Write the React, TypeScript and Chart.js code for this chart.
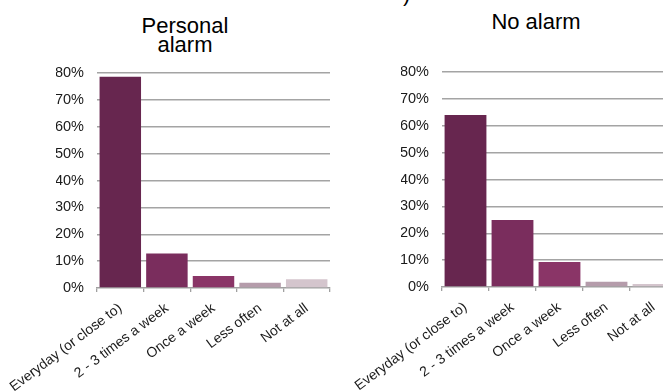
import React, { useEffect, useRef } from 'react';
import { Chart, registerables } from 'chart.js';

Chart.register(...registerables);

const categories = ['Everyday (or close to)', '2 - 3 times a week', 'Once a week', 'Less often', 'Not at all'];
const personalAlarmValues = [78.6, 12.8, 4.5, 2.0, 3.3];
const noAlarmValues = [64.0, 24.9, 9.3, 2.0, 1.1];
const yMax = 80;
const yStep = 10;
const barColors = ['#67264f', '#7a2d5d', '#8a3567', '#b59cab', '#d4c5cd'];

const FONT = '"Liberation Sans", Arial, sans-serif';

function makeConfig(values: number[], pad: { left: number; right: number; top: number; bottom: number }, xHeight: number, yWidth: number): any {
  return {
    type: 'bar',
    data: {
      labels: categories,
      datasets: [
        {
          data: values,
          backgroundColor: barColors,
          borderWidth: 0,
          barPercentage: 0.89,
          categoryPercentage: 1.0,
        },
      ],
    },
    options: {
      responsive: false,
      animation: false,
      layout: { padding: pad },
      plugins: {
        legend: { display: false },
        title: { display: false },
        tooltip: { enabled: false },
      },
      scales: {
        x: {
          grid: {
            display: true,
            drawOnChartArea: false,
            drawTicks: true,
            tickLength: 4,
            color: '#a0a0a0',
            lineWidth: 1.3,
            offset: true,
          },
          border: { display: true, color: '#a0a0a0', width: 1.5 },
          ticks: {
            autoSkip: false,
            minRotation: 37,
            maxRotation: 37,
            padding: 8,
            color: '#1a1a1a',
            font: { family: FONT, size: 14 },
          },
          afterFit: (scale: any) => {
            scale.height = xHeight;
            scale.paddingLeft = 0;
            scale.paddingRight = 0;
          },
        },
        y: {
          min: 0,
          max: yMax,
          grid: {
            display: true,
            drawTicks: false,
            color: (ctx: any) => (ctx.tick && ctx.tick.value === 0 ? 'rgba(0,0,0,0)' : '#a4a4a4'),
            lineWidth: 1.5,
          },
          border: { display: false },
          ticks: {
            stepSize: yStep,
            padding: 13,
            color: '#1a1a1a',
            font: { family: FONT, size: 14.5 },
            callback: (v: any) => v + '%',
          },
          afterFit: (scale: any) => {
            scale.width = yWidth;
          },
        },
      },
    },
  };
}

function BarChart(props: { values: number[]; width: number; height: number; pad: any; xHeight: number; yWidth: number }) {
  const ref = useRef<HTMLCanvasElement | null>(null);
  useEffect(() => {
    if (!ref.current) return;
    const chart = new Chart(ref.current, makeConfig(props.values, props.pad, props.xHeight, props.yWidth));
    return () => chart.destroy();
  }, []);
  return <canvas ref={ref} width={props.width} height={props.height} style={{ display: 'block' }} />;
}

export default function App() {
  const titleStyle: React.CSSProperties = {
    position: 'absolute',
    fontFamily: FONT,
    fontSize: 22,
    lineHeight: '19px',
    color: '#000',
    textAlign: 'center',
    whiteSpace: 'nowrap',
  };
  return (
    <div
      style={{
        position: 'fixed',
        left: 0,
        top: 0,
        width: 663,
        height: 392,
        overflow: 'hidden',
        background: '#fff',
      }}
    >
      <div style={{ ...titleStyle, left: 403, top: -16, fontSize: 22 }}>)</div>
      <div style={{ ...titleStyle, left: 105, width: 160, top: 15.6 }}>
        Personal
        <br />
        alarm
      </div>
      <div style={{ ...titleStyle, left: 456, width: 160, top: 12 }}>No alarm</div>
      <div style={{ position: 'absolute', left: 0, top: 0 }}>
        <BarChart
          values={personalAlarmValues}
          width={340}
          height={392}
          pad={{ left: 56, right: 10, top: 73, bottom: 0 }}
          xHeight={104}
          yWidth={41}
        />
      </div>
      <div style={{ position: 'absolute', left: 330, top: 0 }}>
        <BarChart
          values={noAlarmValues}
          width={360}
          height={392}
          pad={{ left: 71, right: 13, top: 72, bottom: 0 }}
          xHeight={105}
          yWidth={41}
        />
      </div>
    </div>
  );
}
